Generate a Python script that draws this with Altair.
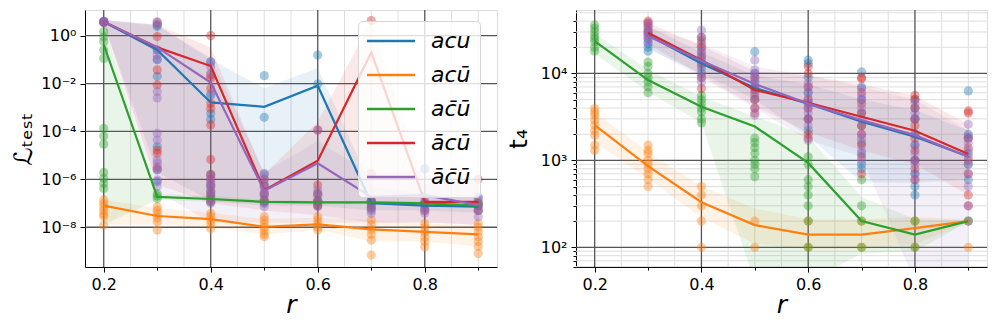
import altair as alt
import pandas as pd

# ---------------- data ----------------
R = [0.2, 0.3, 0.4, 0.5, 0.6, 0.7, 0.8, 0.9]
SERIES = ["acu", "acū", "ac\u0304ū", "ācū", "āc\u0304ū"]
COLORS = ["#1f77b4", "#ff7f0e", "#2ca02c", "#d62728", "#9467bd"]

# Left panel: test loss, values given as log10 exponents per r
loss_pts_acu = [[0.58, 0.55, 0.6], [0.45, 0.38, -0.6, -1.0, -1.7, -4.64, -5.6, -6.1],
                [-1.1, -2.5, -3.25, -3.5, -5.8, -6.2, -6.5], [-1.67, -3.41, -5.8, -6.2, -6.6, -7.0],
                [-0.81, -2.02, -6.6, -6.9, -7.1], [-6.9, -7.1, -7.3], [-5.55, -7.0, -7.2], [-6.8, -7.1, -7.3]]
loss_pts_acub = [[-6.85, -7.0, -7.15, -7.3, -7.45, -7.55, -7.92], [-7.15, -7.3, -7.45, -7.6, -7.77, -8.12],
                 [-7.42, -7.55, -7.7, -7.85, -8.05], [-7.56, -7.7, -7.85, -8.0, -8.15, -8.3, -8.4],
                 [-7.56, -7.7, -7.85, -8.0, -8.12], [-7.7, -7.9, -8.1, -8.3, -8.54, -9.16],
                 [-7.84, -8.0, -8.2, -8.4, -8.6, -8.82], [-7.84, -8.0, -8.2, -8.4, -8.6, -8.8, -9.1]]
loss_pts_acbub = [[0.17, -0.05, -0.25, -0.6, -0.95, -3.87, -4.19, -4.53, -5.71, -5.96, -6.17, -6.38],
                  [-6.6, -6.7, -6.8], [-6.7, -6.8, -6.95], [-6.85, -6.95], [-6.9, -7.0],
                  [-6.95, -7.0], [-7.0, -7.05], [-7.0, -7.1]]
loss_pts_abcub = [[0.58, 0.55], [0.55, -0.04, -1.43, -2.06, -4.78, -4.92, -5.5],
                  [0.0, -1.64, -1.78, -2.2, -2.83, -3.04, -3.73, -5.17, -5.8, -6.0, -6.3, -6.6, -6.9],
                  [-6.0, -6.3, -6.6, -6.9], [-3.94, -6.24, -6.6, -6.9, -7.1], [0.63, -5.75, -6.9, -7.2],
                  [-7.0, -7.3], [-6.0, -7.0, -7.3]]
loss_pts_abcbub = [[0.58, 0.6, 0.56],
                   [0.58, 0.45, -0.6, -0.8, -1.0, -2.34, -2.6, -4.08, -4.36, -5.2, -5.33, -5.6, -6.03, -6.3],
                   [-1.09, -1.3, -1.57, -2.41, -5.9, -6.1, -6.3, -6.5, -6.7, -6.9, -7.0],
                   [-5.75, -6.0, -6.3, -6.5, -6.7, -6.9, -7.14], [-3.94, -6.45, -6.7, -6.9, -7.14],
                   [-6.87, -7.0, -7.2, -7.42], [-5.58, -6.73, -6.9, -7.1, -7.3, -7.42],
                   [-6.73, -6.9, -7.1, -7.3, -7.56]]

loss_line_acu = [0.58, -0.6, -2.79, -2.97, -2.09, -7.0, -7.1, -7.14]
loss_line_acub = [-7.1, -7.53, -7.66, -7.98, -7.88, -8.09, -8.19, -8.3]
loss_line_acbub = [-0.37, -6.73, -6.82, -6.94, -6.96, -6.96, -7.0, -7.1]
loss_line_abcub = [0.58, -0.49, -1.27, -6.45, -5.22, -0.7, -6.94, -6.94]
loss_line_abcbub = [0.58, -0.49, -1.96, -6.48, -5.33, -6.73, -6.66, -7.08]

loss_lo_acu = [0.5, -5.7, -6.9, -7.1, -7.1, -7.3, -7.3, -7.4]
loss_hi_acu = [0.65, 0.45, -1.0, -2.2, -1.35, -6.3, -6.6, -6.7]
loss_lo_acub = [-7.9, -7.9, -8.0, -8.3, -8.1, -8.6, -8.6, -8.8]
loss_hi_acub = [-6.85, -7.2, -7.4, -7.65, -7.6, -7.7, -7.85, -7.9]
loss_lo_acbub = [-7.9, -6.85, -6.95, -7.0, -7.05, -7.05, -7.1, -7.15]
loss_hi_acbub = [0.45, -6.6, -6.7, -6.85, -6.9, -6.9, -6.9, -7.0]
loss_lo_abcub = [0.5, -6.2, -7.0, -7.3, -7.5, -7.8, -7.8, -7.9]
loss_hi_abcub = [0.65, 0.45, -0.5, -5.8, -3.6, 0.6, -6.2, -6.0]
loss_lo_abcbub = [0.5, -6.5, -7.8, -7.8, -7.8, -7.8, -7.8, -7.9]
loss_hi_abcbub = [0.65, 0.4, -0.9, -5.7, -4.4, -5.8, -5.6, -6.0]

# Right panel: t_4 (None = no data at that r)
t4_pts_acu = [[], [30000, 25000, 22000, 20000, 18000], [24000, 18000, 15000, 12000, 10000],
              [17800, 10000, 8000, 6500, 5000], [14200, 13000, 9000, 6000, 4500, 3000, 2200],
              [10400, 7000, 5000, 3500, 2500, 1600, 1200, 900, 800],
              [5000, 4000, 3000, 2000, 1500, 1000, 700, 500, 400], [6300, 2000, 1800, 1200, 900, 600]]
t4_pts_acub = [[3950, 3600, 3300, 2900, 2550, 2200, 1950, 1500, 1300],
               [1500, 1300, 1200, 1000, 900, 800, 700, 600, 500], [500, 400, 300, 200, 100],
               [200, 100], [200, 100], [200, 100], [200, 100], [200, 100]]
t4_pts_acbub = [[36000, 33000, 30000, 27000, 25000, 23000, 20000, 18000],
                [13500, 12000, 10000, 9000, 8000, 7000, 6000], [5600, 5000, 4500, 4000, 3600, 3000, 2700],
                [1800, 1600, 1400, 1200, 1000, 900, 800, 650], [1100, 900, 600, 500, 400, 300, 200, 100],
                [600, 300, 200, 100], [200, 100], [200]]
t4_pts_abcub = [[], [40000, 38000, 35000, 32000, 28000], [26000, 22000, 20000, 16000, 13000, 9000, 6700],
                [9000, 7000, 6000, 5000, 4000, 3500], [12000, 10000, 7000, 5000, 4000, 3000, 2000, 1800],
                [9000, 8700, 6000, 4500, 3500, 2500, 2000, 1500, 1100, 700],
                [5600, 5000, 4000, 3000, 2500, 1800, 1300, 1000, 800, 600],
                [3700, 3500, 1800, 1400, 1000, 700, 400, 300]]
t4_pts_abcbub = [[], [38000, 35000, 31000, 29000, 27000, 25000, 23000],
                 [31600, 26000, 20000, 17000, 14000, 11000, 9000, 8000],
                 [14200, 11000, 10000, 9000, 8000, 7000, 5500, 4000, 3300],
                 [7700, 7000, 6000, 5000, 4500, 4000, 3500, 3000, 2500, 1700],
                 [6700, 5500, 5000, 4000, 3000, 2000, 1800, 1300, 1000],
                 [4500, 3500, 3000, 2000, 1500, 1200, 1000, 900, 700, 600],
                 [2600, 1900, 1600, 1300, 1100, 900, 700, 500, 300, 200]]

t4_line_acu = [None, 27600, 13000, 6800, 4500, 2780, 1870, 1110]
t4_line_acub = [2540, 860, 330, 180, 140, 140, 166, 200]
t4_line_acbub = [23500, 8400, 4130, 2450, 935, 200, 140, 200]
t4_line_abcub = [None, 29400, 14200, 6450, 4600, 3170, 2190, 1180]
t4_line_abcbub = [None, 26900, 14000, 7550, 4500, 2900, 1950, 1100]

t4_lo_acu = [None, 19000, 10000, 5000, 1900, 560, 550, 600]
t4_hi_acu = [None, 35000, 17500, 9500, 7500, 5000, 3800, 2200]
t4_lo_acub = [1600, 620, 220, 110, 95, 95, 110, 190]
t4_hi_acub = [3600, 1250, 500, 280, 210, 210, 225, 210]
t4_lo_acbub = [17000, 6100, 2700, 40, 40, 85, 90, 195]
t4_hi_acbub = [29000, 11000, 5400, 3200, 1900, 380, 210, 205]
t4_lo_abcub = [None, 22000, 9500, 4200, 2100, 1300, 900, 400]
t4_hi_abcub = [None, 38000, 21000, 10500, 9500, 7500, 5500, 2600]
t4_lo_abcbub = [None, 20000, 9000, 4000, 1700, 1100, 40, 40]
t4_hi_abcbub = [None, 34000, 22000, 12000, 9500, 7000, 5000, 2200]

# axes ticks / grids
X_MAJOR = [0.2, 0.4, 0.6, 0.8]
X_MINOR = [0.25, 0.3, 0.35, 0.45, 0.5, 0.55, 0.65, 0.7, 0.75, 0.85, 0.9]
LOSS_TICKS = [1e-8, 1e-6, 1e-4, 1e-2, 1.0]
LOSS_TICK_LABELS = ["10⁻⁸", "10⁻⁶", "10⁻⁴", "10⁻²", "10⁰"]
T4_TICKS = [100.0, 1000.0, 10000.0]
T4_TICK_LABELS = ["10²", "10³", "10⁴"]
T4_MINOR_TICKS = [60.0, 70.0, 80.0, 90.0, 200.0, 300.0, 400.0, 500.0, 600.0, 700.0, 800.0, 900.0,
                  2000.0, 3000.0, 4000.0, 5000.0, 6000.0, 7000.0, 8000.0, 9000.0,
                  20000.0, 30000.0, 40000.0]
T4_MINOR_GRID = T4_MINOR_TICKS + [50000.0]

# ---------------- tables ----------------
def pts_table(lists, log=False):
    rows = []
    for s, per_r in zip(SERIES, lists):
        for r, vals in zip(R, per_r):
            for v in vals:
                rows.append({"series": s, "r": r, "v": 10 ** v if log else v})
    return pd.DataFrame(rows)

def line_table(lines, los, his, log=False):
    rows = []
    f = (lambda z: 10 ** z) if log else (lambda z: z)
    for s, ln, lo, hi in zip(SERIES, lines, los, his):
        for r, a, b, c in zip(R, ln, lo, hi):
            if a is None:
                continue
            rows.append({"series": s, "r": r, "v": f(a), "lo": f(b), "hi": f(c)})
    return pd.DataFrame(rows)

loss_pts = pts_table([loss_pts_acu, loss_pts_acub, loss_pts_acbub, loss_pts_abcub, loss_pts_abcbub], log=True)
loss_lines = line_table([loss_line_acu, loss_line_acub, loss_line_acbub, loss_line_abcub, loss_line_abcbub],
                        [loss_lo_acu, loss_lo_acub, loss_lo_acbub, loss_lo_abcub, loss_lo_abcbub],
                        [loss_hi_acu, loss_hi_acub, loss_hi_acbub, loss_hi_abcub, loss_hi_abcbub], log=True)
t4_pts = pts_table([t4_pts_acu, t4_pts_acub, t4_pts_acbub, t4_pts_abcub, t4_pts_abcbub])
t4_lines = line_table([t4_line_acu, t4_line_acub, t4_line_acbub, t4_line_abcub, t4_line_abcbub],
                      [t4_lo_acu, t4_lo_acub, t4_lo_acbub, t4_lo_abcub, t4_lo_abcbub],
                      [t4_hi_acu, t4_hi_acub, t4_hi_acbub, t4_hi_abcub, t4_hi_abcbub])

FONT = "DejaVu Sans"

def label_expr(vals, labels):
    expr = "''"
    for v, l in zip(vals, labels):
        expr = f"abs(datum.value/{v!r} - 1) < 1e-6 ? '{l}' : ({expr})"
    return expr

def major_test(vals):
    return " || ".join(f"abs(datum.value/{v!r} - 1) < 1e-6" for v in vals)

def make_panel(pts, lines, ydomain, yticks, ylabels, ytitle, ytitle_x, minor_ticks, minor_grid, legend):
    xs = alt.Scale(domain=[0.165, 0.935], nice=False, zero=False)
    ys = alt.Scale(type="log", domain=ydomain, nice=False)
    xax = alt.Axis(values=X_MAJOR + X_MINOR,
                   labelExpr=f"({major_test(X_MAJOR)}) ? format(datum.value, '.1f') : ''",
                   tickSize={"condition": {"test": major_test(X_MAJOR), "value": 5}, "value": 3},
                   grid=False, tickColor="black", labelOverlap=False,
                   labelFontSize=16, labelFont=FONT, labelColor="black", labelPadding=4,
                   title="r", titleFont=FONT, titleFontSize=25, titleFontStyle="italic",
                   titleFontWeight="normal", titleColor="black", titlePadding=0,
                   domainColor="black", labelFlush=False)
    yvals = yticks + (minor_ticks or [])
    yax = alt.Axis(values=yvals, labelExpr=label_expr(yticks, ylabels),
                   tickSize={"condition": {"test": major_test(yticks), "value": 5}, "value": 3},
                   grid=False, tickColor="black", labelOverlap=False, labelFontSize=16, labelFont=FONT,
                   labelColor="black", labelPadding=4, title=ytitle, titleFont=FONT, titleFontSize=25,
                   titleFontWeight="normal", titleColor="black", titleX=ytitle_x,
                   domainColor="black", labelFlush=False)
    X = alt.X("r:Q", scale=xs, axis=xax)
    cscale = alt.Scale(domain=SERIES, range=COLORS)

    vminor = alt.Chart(pd.DataFrame({"r": X_MINOR})).mark_rule(color="#dedede", strokeWidth=1).encode(x=alt.X("r:Q", scale=xs))
    vmajor = alt.Chart(pd.DataFrame({"r": X_MAJOR})).mark_rule(color="#555555", strokeWidth=1.3).encode(x=alt.X("r:Q", scale=xs))
    layers = [vminor]
    if minor_grid:
        hminor = alt.Chart(pd.DataFrame({"v": minor_grid})).mark_rule(color="#dedede", strokeWidth=1).encode(
            y=alt.Y("v:Q", scale=ys))
        layers.append(hminor)
    hmajor = alt.Chart(pd.DataFrame({"v": yticks})).mark_rule(
        color="#555555", strokeWidth=1.3).encode(y=alt.Y("v:Q", scale=ys))
    layers += [vmajor, hmajor]

    band = alt.Chart(lines).mark_area(opacity=0.1, clip=True).encode(
        x=X, y=alt.Y("lo:Q", scale=ys, axis=yax), y2="hi:Q",
        color=alt.Color("series:N", scale=cscale, legend=None))
    pts_l = alt.Chart(pts).mark_circle(size=85, opacity=0.4, clip=True).encode(
        x=X, y=alt.Y("v:Q", scale=ys, axis=yax),
        color=alt.Color("series:N", scale=cscale, legend=None))
    line_l = alt.Chart(lines).mark_line(strokeWidth=2.2, clip=True).encode(
        x=X, y=alt.Y("v:Q", scale=ys, axis=yax),
        color=alt.Color("series:N", scale=cscale, legend=legend))
    layers += [band, pts_l, line_l]
    return alt.layer(*layers).resolve_scale(color="independent").resolve_legend(color="independent")

# line symbol 48px long: custom unit path scaled by sqrt(size)/2 = 6
legend = alt.Legend(orient="none", legendX=273, legendY=11, title=None, symbolType="M-4,0H4",
                    symbolSize=144, symbolStrokeWidth=2.5, symbolOpacity=1, symbolOffset=13,
                    labelFont=FONT, labelFontStyle="italic", labelFontSize=22, labelColor="black",
                    labelOffset=29, rowPadding=12, padding=9, fillColor="rgba(255,255,255,0.8)",
                    strokeColor="#d6d6d6", cornerRadius=4, labelLimit=300)

left = make_panel(loss_pts, loss_lines, [10 ** -9.66, 10 ** 1.07], LOSS_TICKS, LOSS_TICK_LABELS,
                  "ℒₜₑₛₜ", -49, None, None, legend).properties(width=412, height=257)
right = make_panel(t4_pts, t4_lines, [59.3, 53700], T4_TICKS, T4_TICK_LABELS,
                   "t₄", -45, T4_MINOR_TICKS, T4_MINOR_GRID, None).properties(width=411, height=257)

chart = alt.hconcat(left, right, spacing=79, bounds="flush").resolve_scale(
    color="independent").resolve_legend(color="independent").properties(
    padding={"left": 2, "top": 0, "right": 0, "bottom": 0}).configure_view(
    stroke="black", strokeWidth=1.2).configure(background="white")

chart.save("out.html", embed_options={"renderer": "svg", "actions": False})
